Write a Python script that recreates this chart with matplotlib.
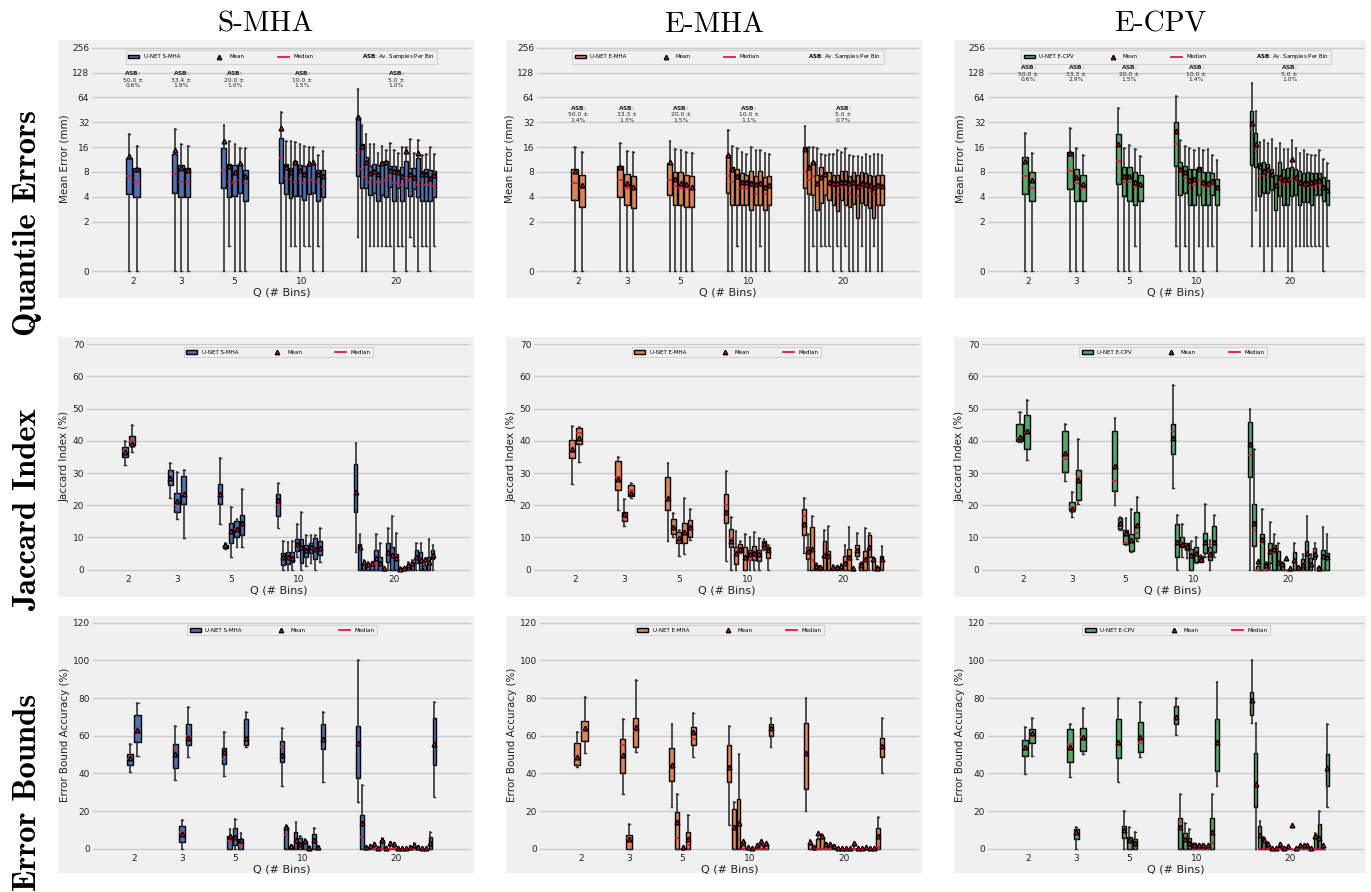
import numpy as np
import matplotlib
matplotlib.use("Agg")
import matplotlib.pyplot as plt
from matplotlib.patches import Rectangle, Patch
from matplotlib.lines import Line2D
from matplotlib.ticker import NullLocator

# ---------------------------------------------------------------- categories
Q_BINS = [2, 3, 5, 10, 20]
METHODS = ["S-MHA", "E-MHA", "E-CPV"]
ROW_NAMES = ["Quantile Errors", "Jaccard Index", "Error Bounds"]
Y_LABELS = ["Mean Error (mm)", "Jaccard Index (%)", "Error Bound Accuracy (%)"]
ERR_TICKS = [0, 2, 4, 8, 16, 32, 64, 128, 256]
JAC_TICKS = [0, 10, 20, 30, 40, 50, 60, 70]
EB_TICKS = [0, 20, 40, 60, 80, 100, 120]

# average samples per bin (mean, std %) shown above each bin group
ASB_MEAN_SMHA = [50.0, 33.4, 20.0, 10.0, 5.0]
ASB_STD_SMHA = [0.6, 1.9, 1.0, 1.5, 1.0]
ASB_MEAN_EMHA = [50.0, 33.3, 20.0, 10.0, 5.0]
ASB_STD_EMHA = [1.4, 1.3, 1.5, 1.1, 0.7]
ASB_MEAN_ECPV = [50.0, 33.3, 20.0, 10.0, 5.0]
ASB_STD_ECPV = [0.6, 2.9, 1.5, 1.4, 1.0]

# ---------------------------------------------------------------- S-MHA, mean error (mm)
SMHA_ERR_LO = [0, 0,
               0, 0, 0,
               0, 1.0, 0, 0, 0,
               0, 0, 1.0, 1.0, 0, 1.0, 1.0, 0, 1.0, 0,
               1.3, 0, 0, 1.0, 1.0, 1.0, 1.0, 1.0, 1.0, 0,
               1.0, 1.0, 0, 1.3, 1.0, 0, 1.0, 1.0, 0, 1.0]
SMHA_ERR_Q1 = [4.3, 4.0,
               4.5, 4.0, 4.0,
               5.1, 4.0, 4.1, 4.45, 3.6,
               5.9, 4.3, 3.9, 4.1, 4.1, 3.7, 4.3, 4.5, 3.6, 4.0,
               7.1, 5.1, 5.1, 4.2, 4.5, 3.6, 4.2, 4.0, 5.3, 3.6,
               5.1, 3.6, 5.1, 4.1, 5.0, 4.0, 3.6, 3.6, 3.6, 4.0]
SMHA_ERR_MED = [7.2, 6.1,
                7.6, 6.1, 6.1,
                8.4, 6.1, 6.1, 6.4, 5.8,
                11.7, 6.7, 6.5, 6.0, 6.7, 5.9, 6.4, 6.4, 6.1, 5.4,
                13.7, 8.6, 7.0, 6.1, 6.8, 6.0, 6.1, 6.4, 7.2, 5.8,
                5.8, 5.6, 6.7, 6.4, 6.5, 5.6, 6.4, 5.6, 5.6, 5.4]
SMHA_ERR_Q3 = [11.8, 9.0,
               13.2, 9.6, 9.0,
               15.8, 9.9, 9.6, 10.0, 8.5,
               20.7, 10.1, 9.0, 11.0, 9.8, 9.4, 9.6, 10.0, 8.4, 8.5,
               36.8, 17.3, 12.2, 9.5, 10.0, 9.6, 10.5, 11.0, 9.5, 9.4,
               8.4, 9.3, 10.8, 9.0, 9.0, 11.8, 8.2, 8.6, 8.5, 8.1]
SMHA_ERR_HI = [23.0, 16.5,
               26.6, 17.6, 16.5,
               29.7, 18.8, 17.6, 15.8, 15.5,
               42.0, 18.9, 19.2, 18.2, 17.6, 16.3, 16.0, 16.0, 12.8, 14.5,
               80.0, 30.0, 23.0, 17.3, 17.3, 13.6, 16.5, 14.9, 17.9, 14.7,
               13.6, 16.2, 16.0, 19.8, 13.4, 19.6, 12.8, 13.1, 16.0, 13.2]
SMHA_ERR_MEAN = [12.6, 8.6,
                 14.9, 9.0, 8.4,
                 19.2, 9.5, 8.0, 10.4, 7.2,
                 27.0, 9.1, 7.9, 10.6, 8.4, 7.6, 10.3, 10.5, 7.5, 7.2,
                 36.8, 16.5, 10.7, 7.7, 8.2, 7.5, 10.4, 10.7, 8.5, 8.2,
                 7.9, 7.2, 14.5, 7.6, 7.0, 13.7, 7.6, 7.6, 6.8, 7.3]

# ---------------------------------------------------------------- E-MHA, mean error (mm)
EMHA_ERR_LO = [0, 0,
               0, 0, 0,
               0, 0, 0, 0, 0,
               0, 0, 1.0, 0, 0, 0, 0, 1.0, 0, 0,
               0, 0, 1.0, 0, 1.0, 1.0, 1.0, 0, 1.0, 0,
               1.0, 0, 0, 0, 1.0, 0, 0, 1.0, 0, 0]
EMHA_ERR_Q1 = [3.7, 3.0,
               4.0, 3.2, 2.9,
               4.2, 3.2, 3.2, 3.0, 3.0,
               4.5, 3.2, 3.2, 3.2, 3.2, 2.8, 3.2, 3.2, 2.8, 3.2,
               5.1, 4.3, 4.2, 2.8, 3.4, 4.2, 3.7, 3.2, 2.7, 3.7,
               3.2, 3.0, 3.3, 2.2, 3.4, 3.2, 2.9, 2.2, 3.2, 3.2]
EMHA_ERR_MED = [5.8, 5.1,
                6.4, 5.1, 5.1,
                6.4, 5.4, 5.1, 5.1, 5.1,
                7.2, 6.1, 6.5, 5.1, 5.1, 5.4, 4.3, 5.4, 4.3, 5.3,
                7.9, 6.4, 7.2, 5.7, 6.4, 7.0, 5.4, 5.2, 4.2, 5.3,
                5.3, 4.5, 5.3, 4.1, 5.2, 5.3, 4.7, 4.3, 5.2, 5.2]
EMHA_ERR_Q3 = [8.6, 7.3,
               9.5, 7.6, 7.2,
               10.4, 8.0, 7.9, 7.4, 7.1,
               13.0, 9.1, 8.6, 7.7, 7.3, 8.3, 7.2, 8.3, 7.0, 7.2,
               15.9, 9.5, 10.7, 7.4, 9.1, 8.0, 8.0, 7.4, 7.4, 8.3,
               8.3, 7.2, 8.0, 7.3, 8.0, 7.7, 7.4, 7.2, 7.3, 7.3]
EMHA_ERR_HI = [16.0, 13.8,
               17.8, 14.4, 13.8,
               18.9, 15.3, 14.8, 13.8, 13.4,
               26.0, 16.6, 15.6, 13.8, 13.2, 15.9, 14.6, 14.8, 13.6, 13.3,
               29.0, 16.0, 16.0, 15.6, 13.2, 12.9, 13.2, 13.2, 14.8, 13.8,
               15.6, 12.9, 12.5, 12.5, 12.3, 13.2, 12.5, 13.2, 13.2, 12.9]
EMHA_ERR_MEAN = [8.1, 5.6,
                 9.3, 5.9, 5.3,
                 10.7, 6.5, 5.9, 5.7, 5.3,
                 12.7, 8.6, 7.2, 6.1, 6.1, 5.9, 5.7, 5.8, 5.3, 5.5,
                 15.3, 9.1, 10.7, 5.8, 6.9, 7.6, 6.1, 5.8, 5.9, 6.0,
                 6.1, 5.8, 6.1, 5.4, 5.8, 5.7, 5.5, 5.3, 5.5, 5.4]

# ---------------------------------------------------------------- E-CPV, mean error (mm)
ECPV_ERR_LO = [0, 0,
               0, 0, 0,
               0, 0, 0, 1.0, 0,
               1.0, 0, 1.0, 0, 0, 1.0, 0, 1.0, 1.0, 0,
               1.0, 2.8, 1.0, 0, 1.0, 0, 1.0, 1.0, 1.0, 0,
               0, 1.0, 1.0, 1.0, 1.0, 1.0, 1.0, 1.0, 0, 1.0]
ECPV_ERR_Q1 = [4.3, 3.6,
               5.0, 3.6, 3.6,
               5.7, 4.1, 3.6, 3.2, 3.6,
               9.5, 4.2, 4.5, 3.2, 3.2, 4.2, 3.2, 3.2, 4.2, 3.2,
               9.8, 9.3, 4.1, 4.4, 4.5, 4.8, 2.8, 4.1, 3.2, 3.2,
               4.1, 4.2, 3.2, 3.5, 3.5, 3.2, 4.2, 4.2, 3.6, 3.2]
ECPV_ERR_MED = [7.2, 5.1,
                8.3, 5.8, 5.1,
                10.9, 6.1, 6.1, 5.2, 5.2,
                17.4, 8.0, 6.7, 5.1, 5.5, 6.4, 5.2, 5.2, 5.5, 4.9,
                26.0, 14.4, 7.2, 7.4, 6.9, 7.0, 5.2, 6.1, 5.7, 5.7,
                6.5, 6.2, 6.1, 5.2, 5.5, 5.2, 5.2, 5.7, 5.1, 4.7]
ECPV_ERR_Q3 = [12.1, 7.9,
               14.1, 8.6, 7.3,
               23.0, 9.1, 9.1, 8.0, 7.3,
               32.5, 10.7, 9.5, 8.6, 8.6, 9.1, 8.0, 8.0, 7.7, 6.5,
               44.0, 23.7, 10.2, 10.7, 10.0, 8.8, 7.4, 10.6, 8.6, 8.9,
               9.3, 8.8, 8.3, 7.7, 7.9, 7.7, 7.7, 7.7, 7.0, 6.3]
ECPV_ERR_HI = [23.7, 13.6,
               26.9, 15.5, 12.9,
               48.0, 15.6, 16.9, 15.3, 12.5,
               66.0, 19.7, 16.4, 15.6, 14.8, 15.6, 14.8, 15.3, 12.9, 11.3,
               97.0, 44.0, 18.6, 19.7, 18.1, 20.0, 15.6, 17.9, 15.2, 15.2,
               19.7, 15.6, 13.4, 14.8, 13.1, 12.9, 12.9, 14.8, 11.6, 10.3]
ECPV_ERR_MEAN = [11.0, 6.3,
                 13.4, 7.0, 5.7,
                 17.5, 7.2, 7.2, 6.0, 5.7,
                 24.8, 8.8, 8.0, 6.3, 6.5, 8.6, 6.1, 5.8, 6.2, 5.3,
                 31.3, 17.5, 9.5, 8.3, 8.8, 7.6, 5.5, 7.0, 6.5, 6.5,
                 11.5, 7.0, 6.1, 5.9, 5.8, 6.0, 6.2, 6.3, 5.3, 4.8]

# ---------------------------------------------------------------- S-MHA, Jaccard index (%)
SMHA_JAC_LO = [32.6, 36.4,
               22.4, 15.7, 9.9,
               14.1, 6.5, 4.0, 7.0, 6.9,
               12.9, 0, 0, 0, 4.0, 0, 1.1, 2.1, 0, 2.3,
               5.4, 0, 0, 0, 0, 0, 0, 0, 0, 0,
               0, 0, 0, 0, 0, 0, 0, 0, 0, 0]
SMHA_JAC_Q1 = [35.0, 38.7,
               26.3, 18.0, 20.3,
               20.3, 6.7, 8.2, 10.1, 10.8,
               16.6, 1.4, 1.7, 2.4, 5.9, 2.1, 4.0, 5.2, 3.4, 4.5,
               18.0, 0, 0, 0, 0, 0, 0, 0, 2.5, 0,
               0, 0, 0, 0, 0, 2.1, 0, 0, 0, 3.2]
SMHA_JAC_MED = [37.0, 40.0,
                27.7, 20.2, 23.5,
                23.2, 7.2, 11.8, 12.5, 13.6,
                20.0, 3.3, 3.7, 3.3, 7.3, 6.6, 5.7, 6.6, 6.6, 6.3,
                23.7, 6.1, 1.7, 1.6, 1.4, 1.8, 1.4, 0, 5.3, 4.1,
                3.3, 0, 0, 0.9, 1.7, 3.8, 3.0, 0.7, 2.3, 4.5]
SMHA_JAC_Q3 = [38.0, 41.4,
               31.0, 23.9, 29.0,
               26.6, 7.8, 14.5, 15.1, 17.0,
               23.5, 5.3, 5.4, 5.4, 9.6, 9.5, 7.7, 8.2, 9.7, 8.8,
               32.7, 8.1, 2.0, 1.9, 1.7, 6.1, 4.0, 0, 8.2, 7.0,
               4.8, 0.6, 0.7, 1.7, 2.3, 6.1, 5.4, 1.4, 4.0, 6.0]
SMHA_JAC_HI = [40.0, 45.0,
               33.2, 30.3, 31.0,
               34.7, 8.2, 19.5, 15.7, 25.2,
               26.8, 8.9, 8.6, 8.9, 14.1, 17.8, 10.8, 10.8, 10.9, 13.1,
               39.4, 11.1, 3.0, 2.5, 2.3, 11.1, 8.4, 0, 13.0, 16.7,
               11.3, 0.9, 0.9, 2.3, 3.0, 8.3, 8.3, 2.0, 9.6, 7.8]
SMHA_JAC_MEAN = [36.5, 39.1,
                 28.5, 21.4, 23.5,
                 23.5, 7.6, 11.9, 12.6, 14.6,
                 21.7, 3.8, 3.8, 3.7, 8.0, 7.1, 6.1, 6.9, 6.4, 6.7,
                 24.1, 6.9, 2.3, 1.9, 2.0, 3.7, 2.2, 0.5, 5.6, 4.5,
                 3.5, 0.3, 0.4, 1.4, 2.0, 4.0, 3.1, 3.3, 2.3, 4.7]

# ---------------------------------------------------------------- E-MHA, Jaccard index (%)
EMHA_JAC_LO = [26.6, 33.3,
               18.5, 13.5, 22.2,
               8.9, 10.1, 4.3, 4.8, 9.3,
               2.6, 0, 0, 5.2, 0, 0, 0, 0, 6.2, 0,
               5.2, 0, 0, 0, 0, 0, 0, 0, 0, 0,
               0, 0, 0, 3.3, 0, 0, 0, 0, 0, 0]
EMHA_JAC_Q1 = [34.6, 38.9,
               24.9, 15.1, 22.9,
               18.5, 11.2, 8.2, 8.2, 10.0,
               14.4, 7.2, 1.8, 5.6, 0, 3.0, 3.0, 2.7, 6.3, 3.6,
               10.8, 3.3, 0, 0, 0, 0, 0, 0, 0, 0,
               0, 0, 0, 4.3, 0, 0, 4.0, 0, 0, 0]
EMHA_JAC_MED = [36.4, 42.5,
                28.9, 16.1, 24.9,
                21.8, 12.9, 9.6, 11.1, 12.9,
                20.0, 9.7, 5.1, 6.3, 3.0, 3.0, 4.0, 4.0, 7.7, 5.7,
                16.8, 6.1, 3.0, 0.9, 0.4, 4.0, 4.0, 0.4, 0.4, 0.7,
                1.4, 3.0, 0, 6.1, 1.2, 3.0, 6.4, 2.8, 0.4, 2.6]
EMHA_JAC_Q3 = [40.3, 44.0,
               33.6, 18.0, 26.2,
               28.9, 15.6, 11.7, 14.4, 15.5,
               23.5, 12.6, 6.9, 8.1, 6.9, 6.2, 7.3, 6.1, 8.8, 7.2,
               18.9, 7.1, 13.4, 1.4, 0.9, 8.9, 5.9, 0.9, 0.9, 1.3,
               4.3, 6.4, 0, 7.7, 2.0, 5.8, 10.9, 3.5, 0.9, 4.3]
EMHA_JAC_HI = [44.6, 44.4,
               34.9, 21.8, 26.8,
               33.0, 17.6, 12.3, 22.3, 18.8,
               30.6, 16.3, 12.0, 9.0, 11.0, 10.0, 11.8, 9.8, 9.6, 7.8,
               22.2, 11.1, 16.7, 2.0, 1.2, 12.3, 13.6, 1.4, 1.2, 1.7,
               7.6, 13.4, 0, 11.3, 2.3, 13.1, 11.4, 4.0, 1.2, 7.3]
EMHA_JAC_MEAN = [37.4, 40.8,
                 28.2, 17.2, 23.9,
                 22.2, 13.4, 9.9, 11.8, 13.4,
                 18.0, 8.9, 5.2, 6.5, 4.0, 4.8, 5.2, 5.0, 8.1, 6.1,
                 14.2, 5.7, 6.4, 1.3, 0.8, 4.7, 4.3, 0.8, 0.8, 1.2,
                 2.0, 4.0, 0.4, 6.1, 1.6, 3.3, 6.9, 3.2, 0.6, 3.2]

# ---------------------------------------------------------------- E-CPV, Jaccard index (%)
ECPV_JAC_LO = [39.5, 34.1,
               27.5, 16.5, 20.3,
               20.1, 12.3, 7.8, 5.4, 9.0,
               25.5, 0, 4.0, 3.5, 0, 2.0, 2.3, 3.9, 0, 4.0,
               0, 0, 0, 0, 0, 0, 0, 0, 0, 0,
               0, 0, 0, 0, 0, 0, 0, 0, 0, 0]
ECPV_JAC_Q1 = [39.9, 37.5,
               30.2, 18.4, 21.7,
               24.5, 12.7, 8.1, 5.9, 9.9,
               36.0, 3.9, 7.0, 6.0, 0, 2.3, 2.5, 5.1, 3.0, 5.4,
               28.7, 7.3, 0, 0, 0, 2.0, 0, 0, 0, 0,
               0, 0, 0, 0, 0, 0, 3.3, 0, 0, 0]
ECPV_JAC_MED = [40.8, 42.5,
                34.5, 19.6, 28.9,
                27.5, 14.7, 8.2, 9.1, 11.3,
                43.2, 7.9, 8.2, 7.6, 4.2, 5.6, 3.5, 8.4, 5.1, 7.7,
                35.6, 12.3, 0, 8.4, 0, 5.6, 5.1, 2.0, 1.4, 0,
                0, 2.5, 0, 0.9, 2.0, 1.4, 6.1, 0, 4.0, 3.3]
ECPV_JAC_Q3 = [45.2, 48.0,
               43.2, 21.0, 30.8,
               43.1, 16.1, 12.3, 11.1, 18.0,
               45.2, 14.3, 10.0, 8.2, 6.5, 6.9, 4.3, 11.3, 6.9, 13.6,
               45.9, 20.3, 1.2, 11.0, 2.0, 8.2, 7.6, 5.8, 2.0, 0,
               0, 5.5, 0.9, 3.3, 9.0, 3.5, 6.6, 0.7, 6.1, 5.1]
ECPV_JAC_HI = [49.0, 52.7,
               45.2, 24.1, 40.6,
               47.2, 16.5, 16.0, 18.7, 22.5,
               57.3, 17.0, 14.2, 8.2, 8.9, 10.0, 4.6, 20.5, 9.2, 17.0,
               50.0, 37.4, 2.0, 18.8, 2.5, 14.7, 11.1, 8.2, 2.3, 0,
               0, 8.2, 1.2, 4.8, 16.7, 4.9, 8.2, 1.2, 13.4, 11.1]
ECPV_JAC_MEAN = [41.3, 43.0,
                 36.1, 18.9, 27.8,
                 32.2, 14.6, 11.3, 9.2, 13.9,
                 41.0, 8.5, 8.1, 7.4, 4.7, 5.3, 3.3, 8.5, 5.0, 8.5,
                 38.9, 14.6, 2.7, 9.4, 1.4, 5.8, 6.3, 2.5, 1.7, 3.5,
                 0.4, 3.0, 0.7, 1.4, 5.1, 1.7, 4.8, 0.6, 4.3, 4.0]

# ---------------------------------------------------------------- S-MHA, error bound accuracy (%)
SMHA_EB_LO = [40.5, 49.4,
              36.6, 0, 48.5,
              38.8, 0, 0, 0, 54.0,
              33.5, 0, 0, 0, 0, 0, 0, 0, 0, 35.6,
              25.0, 0, 0, 0, 0, 0, 0, 0, 0, 0,
              0, 0, 0, 0, 0, 0, 0, 0, 0, 27.3]
SMHA_EB_Q1 = [44.2, 56.5,
              42.7, 3.4, 55.2,
              44.8, 0, 2.1, 0, 55.0,
              45.8, 0, 0, 0, 0, 0, 0, 0, 0, 52.7,
              37.3, 0, 0, 0, 0, 0, 0, 0, 0, 0,
              0, 0, 0, 0, 0, 0, 0, 0, 0, 44.4]
SMHA_EB_MED = [47.6, 62.7,
               53.3, 9.0, 59.8,
               47.6, 4.1, 5.0, 1.8, 58.2,
               54.2, 7.1, 0, 2.8, 1.8, 2.8, 0, 3.4, 0, 57.2,
               55.4, 6.4, 0, 0, 0, 0, 0, 0, 0, 0,
               0, 0, 0, 0, 0, 0, 0, 0, 1.9, 55.0]
SMHA_EB_Q3 = [50.3, 71.0,
              55.4, 11.9, 66.4,
              53.3, 6.9, 11.2, 5.1, 69.0,
              57.2, 11.7, 1.4, 9.0, 5.8, 4.2, 0, 7.6, 0, 66.0,
              65.1, 17.9, 0, 0, 0, 0, 4.6, 0, 0, 0,
              0, 0, 0, 0, 0, 0, 0, 0, 6.4, 69.2]
SMHA_EB_HI = [55.4, 77.5,
              65.0, 15.0, 75.4,
              62.0, 10.6, 15.6, 8.5, 72.7,
              63.9, 12.6, 1.9, 14.0, 6.9, 5.0, 1.4, 10.8, 1.6, 72.4,
              100.0, 33.8, 0.8, 1.9, 3.2, 0, 5.5, 0, 3.4, 2.8,
              0, 0, 0, 1.2, 2.8, 1.2, 0, 0, 8.7, 78.1]
SMHA_EB_MEAN = [48.0, 63.2,
                50.3, 8.0, 58.6,
                51.5, 6.7, 6.0, 4.6, 58.9,
                49.6, 11.7, 1.4, 4.6, 2.3, 3.9, 0.5, 4.8, 1.1, 58.1,
                56.3, 13.5, 0.9, 1.6, 2.5, 0.2, 4.6, 0.2, 2.8, 2.3,
                0.3, 0.2, 0.2, 0.9, 2.1, 0.9, 0.2, 0.2, 2.8, 55.6]

# ---------------------------------------------------------------- E-MHA, error bound accuracy (%)
EMHA_EB_LO = [43.5, 51.0,
              29.0, 0, 51.5,
              22.3, 0, 0, 0, 48.7,
              12.6, 0, 0, 0, 0, 0, 0, 0, 0, 54.2,
              20.0, 0, 0, 0, 0, 0, 0, 0, 0, 0,
              0, 0, 0, 0, 0, 0, 0, 0, 0, 40.0]
EMHA_EB_Q1 = [44.4, 57.3,
              40.0, 0, 54.2,
              36.1, 0, 0, 0, 55.2,
              35.4, 0, 0, 0, 0, 0, 0, 0, 0, 59.8,
              31.5, 0, 0, 0, 0, 0, 0, 0, 0, 0,
              0, 0, 0, 0, 0, 0, 0, 0, 0, 48.8]
EMHA_EB_MED = [48.1, 63.0,
               55.0, 5.5, 62.7,
               42.7, 5.8, 0, 1.9, 58.1,
               42.1, 11.7, 12.0, 0, 0, 0, 0, 0, 0, 63.0,
               49.7, 1.9, 0, 0, 0, 0, 0, 0, 0, 0,
               0, 0, 0, 0, 0, 0, 0, 0, 1.1, 53.8]
EMHA_EB_Q3 = [55.9, 67.8,
              58.1, 7.3, 69.6,
              53.3, 19.6, 0, 8.7, 64.4,
              54.9, 21.2, 26.5, 1.9, 0, 0, 1.1, 1.9, 1.9, 66.0,
              66.5, 2.8, 0, 5.0, 6.4, 1.9, 1.9, 0, 0, 0,
              0, 0, 0, 0, 0, 0, 0, 0, 11.2, 58.6]
EMHA_EB_HI = [62.1, 80.7,
              68.8, 13.1, 89.6,
              66.0, 28.8, 0, 17.7, 71.9,
              65.0, 25.0, 50.3, 2.8, 0, 0, 1.9, 2.8, 2.8, 69.6,
              80.2, 4.6, 0, 5.5, 7.6, 2.8, 2.8, 1.8, 0, 0,
              0, 0, 2.8, 0, 0, 0.8, 0, 0, 17.0, 69.6]
EMHA_EB_MEAN = [48.8, 63.9,
                49.6, 5.0, 64.4,
                44.4, 14.2, 0.7, 5.3, 62.1,
                43.5, 11.7, 13.5, 4.1, 0.7, 0.5, 1.8, 4.1, 2.8, 63.9,
                50.6, 3.7, 1.1, 8.1, 6.9, 2.3, 2.3, 1.6, 0.2, 0.2,
                0.2, 0.2, 3.2, 0.2, 0.2, 1.1, 0.2, 0.2, 6.9, 54.5]

# ---------------------------------------------------------------- E-CPV, error bound accuracy (%)
ECPV_EB_LO = [39.5, 49.4,
              37.9, 0, 50.1,
              35.2, 0, 0, 0, 48.7,
              60.4, 0, 0, 0, 0, 0, 0, 0, 0, 33.5,
              66.5, 0, 0, 0, 0, 0, 0, 0, 0, 0,
              0, 0, 0, 0, 0, 0, 0, 0, 0, 22.3]
ECPV_EB_Q1 = [49.4, 55.9,
              45.8, 5.0, 51.9,
              48.3, 5.5, 0, 0, 51.3,
              66.0, 0, 0, 0, 0, 0, 0, 0, 0, 41.4,
              70.8, 22.3, 0, 0, 0, 0, 0, 0, 0, 0,
              0, 0, 0, 0, 0, 0, 0, 0, 0, 33.5]
ECPV_EB_MED = [53.6, 59.8,
               55.4, 8.7, 59.1,
               55.0, 9.0, 3.7, 1.1, 55.9,
               68.8, 14.0, 4.6, 1.1, 0, 0, 0, 0, 3.2, 55.0,
               75.4, 32.9, 0, 0, 0, 0, 0, 0, 0, 0,
               0, 0, 0, 0, 0, 0, 0, 0, 0, 42.3]
ECPV_EB_Q3 = [57.7, 63.5,
              63.5, 10.4, 63.9,
              68.7, 12.2, 6.4, 5.0, 67.4,
              75.9, 16.1, 8.1, 5.5, 2.8, 1.9, 1.9, 1.1, 16.1, 68.8,
              83.0, 51.0, 12.0, 5.5, 2.8, 0, 0, 1.1, 0, 0,
              0, 0, 0, 0, 0, 0, 7.3, 12.9, 0, 50.1]
ECPV_EB_HI = [64.8, 69.2,
              66.0, 11.7, 74.9,
              80.2, 20.2, 11.7, 8.7, 77.7,
              80.2, 29.0, 13.5, 10.4, 3.2, 2.3, 2.3, 1.9, 29.0, 88.7,
              100.0, 66.9, 14.7, 6.4, 3.5, 0, 0, 2.8, 0, 1.2,
              0, 0, 1.2, 1.2, 1.2, 0, 8.1, 20.2, 1.2, 66.0]
ECPV_EB_MEAN = [53.8, 61.2,
                54.2, 8.7, 59.5,
                56.5, 9.9, 4.6, 2.8, 59.1,
                69.7, 11.7, 5.1, 2.8, 1.8, 1.9, 1.8, 1.8, 9.0, 56.5,
                78.9, 34.3, 7.3, 4.6, 2.5, 0.2, 0.2, 2.3, 0.2, 1.4,
                12.6, 0.2, 1.9, 1.9, 1.9, 0.2, 6.9, 5.8, 1.8, 42.7]

PANELS = [
    [(SMHA_ERR_LO, SMHA_ERR_Q1, SMHA_ERR_MED, SMHA_ERR_Q3, SMHA_ERR_HI, SMHA_ERR_MEAN),
     (EMHA_ERR_LO, EMHA_ERR_Q1, EMHA_ERR_MED, EMHA_ERR_Q3, EMHA_ERR_HI, EMHA_ERR_MEAN),
     (ECPV_ERR_LO, ECPV_ERR_Q1, ECPV_ERR_MED, ECPV_ERR_Q3, ECPV_ERR_HI, ECPV_ERR_MEAN)],
    [(SMHA_JAC_LO, SMHA_JAC_Q1, SMHA_JAC_MED, SMHA_JAC_Q3, SMHA_JAC_HI, SMHA_JAC_MEAN),
     (EMHA_JAC_LO, EMHA_JAC_Q1, EMHA_JAC_MED, EMHA_JAC_Q3, EMHA_JAC_HI, EMHA_JAC_MEAN),
     (ECPV_JAC_LO, ECPV_JAC_Q1, ECPV_JAC_MED, ECPV_JAC_Q3, ECPV_JAC_HI, ECPV_JAC_MEAN)],
    [(SMHA_EB_LO, SMHA_EB_Q1, SMHA_EB_MED, SMHA_EB_Q3, SMHA_EB_HI, SMHA_EB_MEAN),
     (EMHA_EB_LO, EMHA_EB_Q1, EMHA_EB_MED, EMHA_EB_Q3, EMHA_EB_HI, EMHA_EB_MEAN),
     (ECPV_EB_LO, ECPV_EB_Q1, ECPV_EB_MED, ECPV_EB_Q3, ECPV_EB_HI, ECPV_EB_MEAN)],
]
ASB = [(ASB_MEAN_SMHA, ASB_STD_SMHA), (ASB_MEAN_EMHA, ASB_STD_EMHA), (ASB_MEAN_ECPV, ASB_STD_ECPV)]

# ---------------------------------------------------------------- styling / layout
COLORS = ["#4C72B0", "#DD8452", "#55A868"]
MED_C = "#e3173e"
BG = "#f0f0f0"
GRID_C = "#cbcbcb"
TXT_C = "#222222"

W, H, DPI = 1371, 892, 100
GRAY_COLS = [(58, 474), (506, 922), (954, 1366)]
GRAY_ROWS = [(40, 298), (337, 597), (616, 873)]
AX_X = [[(92, 471), (537, 919), (988, 1364)],
        [(87, 470), (534, 919), (982, 1364)],
        [(93, 471), (540, 919), (988, 1364)]]
AX_Y = [(44, 274), (341, 572), (619, 851)]
YLIMS = [(-0.109, 284.0), (-0.71, 71.0), (-1.22, 122.0)]
ASB_Y = [108.0, 41.0, 128.0]

GROUP_CENTERS = [10.8, 23.5, 37.6, 55.4, 80.2]
GROUP_STEP = [1.93, 1.72, 1.45, 1.21, 1.06]

positions, widths = [], []
for cx, q, st in zip(GROUP_CENTERS, Q_BINS, GROUP_STEP):
    offs = (np.arange(q) - (q - 1) / 2.0) * st
    positions.extend(cx + offs)
    widths.extend([st * 0.85] * q)
capwidths = [w * 0.35 for w in widths]


def fig_rect(x0, y0, x1, y1):
    return [x0 / W, 1 - y1 / H, (x1 - x0) / W, (y1 - y0) / H]


fig = plt.figure(figsize=(W / DPI, H / DPI), dpi=DPI, facecolor="white")

for r in range(3):
    for c in range(3):
        gx0, gx1 = GRAY_COLS[c]
        gy0, gy1 = GRAY_ROWS[r]
        fig.add_artist(Rectangle((gx0 / W, 1 - gy1 / H), (gx1 - gx0) / W, (gy1 - gy0) / H,
                                 transform=fig.transFigure, facecolor=BG,
                                 edgecolor="none", zorder=-5))
        ax0, ax1 = AX_X[r][c]
        ay0, ay1 = AX_Y[r]
        ax = fig.add_axes(fig_rect(ax0, ay0, ax1, ay1))
        ax.set_facecolor(BG)
        for sp in ax.spines.values():
            sp.set_visible(False)

        lo, q1, med, q3, hi, mean = PANELS[r][c]
        stats = [dict(whislo=a, q1=b, med=m, q3=d, whishi=e, mean=f, fliers=[])
                 for a, b, m, d, e, f in zip(lo, q1, med, q3, hi, mean)]

        if r == 0:
            ax.set_yscale("symlog", base=2, linthresh=1, linscale=0.5)

        ax.bxp(stats, positions=positions, widths=widths, capwidths=capwidths,
               patch_artist=True, showmeans=True, showfliers=False, manage_ticks=False,
               boxprops=dict(facecolor=COLORS[c], edgecolor="black", linewidth=1.0),
               medianprops=dict(color=MED_C, linewidth=1.2),
               meanprops=dict(marker="^", markerfacecolor=MED_C, markeredgecolor="black",
                              markersize=3.4, markeredgewidth=1.0),
               whiskerprops=dict(color="#333333", linewidth=1.2),
               capprops=dict(color="#333333", linewidth=1.0))

        ax.set_xlim(0, 100)
        ax.set_ylim(*YLIMS[r])
        ticks = [ERR_TICKS, JAC_TICKS, EB_TICKS][r]
        ax.set_yticks(ticks)
        ax.set_yticklabels([str(t) for t in ticks])
        ax.yaxis.set_minor_locator(NullLocator())
        ax.set_xticks(GROUP_CENTERS)
        ax.set_xticklabels([str(q) for q in Q_BINS])
        ax.xaxis.set_minor_locator(NullLocator())
        ax.tick_params(length=0, labelsize=6.5, pad=2, colors=TXT_C)
        ax.grid(axis="y", color=GRID_C, linewidth=1.0)
        ax.grid(axis="x", visible=False)
        ax.set_axisbelow(True)
        ax.set_xlabel("Q (# Bins)", fontsize=8, labelpad=1, color=TXT_C)
        ax.set_ylabel(Y_LABELS[r], fontsize=7.5, labelpad=2, color=TXT_C)

        handles = [Patch(facecolor=COLORS[c], edgecolor="black", linewidth=1.0),
                   Line2D([], [], ls="none", marker="^", markerfacecolor=MED_C,
                          markeredgecolor="black", markersize=3.2, markeredgewidth=1.0),
                   Line2D([], [], color=MED_C, linewidth=1.3)]
        labels = [f"U-NET {METHODS[c]}", "Mean", "Median"]
        if r == 0:
            handles.append(Line2D([], [], ls="none"))
            labels.append(r"$\mathbf{ASB}$: Av. Samples Per Bin")
        ax_h = ay1 - ay0
        leg = ax.legend(handles, labels, loc="upper center",
                        bbox_to_anchor=(0.5, 1 - 6.0 / ax_h), borderaxespad=0,
                        ncol=len(handles), fontsize=4, frameon=True, fancybox=False,
                        edgecolor="#d2d2d2", facecolor=BG, framealpha=1,
                        columnspacing=6.0, handlelength=2.0, handletextpad=0.8,
                        borderpad=0.45)
        leg.get_frame().set_linewidth(0.8)

        if r == 0:
            means, stds = ASB[c]
            for cx, m, s in zip(GROUP_CENTERS, means, stds):
                ax.text(cx, ASB_Y[c], r"$\mathbf{ASB}$:" + f"\n{m:.1f} ±\n{s:.1f}%",
                        ha="center", va="center", fontsize=4.3, linespacing=1.05,
                        color=TXT_C)

# column titles
TITLE_X = [266, 714, 1160]
for x, name in zip(TITLE_X, METHODS):
    fig.text(x / W, 1 - 32 / H, name, family="cmr10", fontsize=21,
             ha="center", va="baseline", color="black")

# row titles
ROW_Y = [223, 510, 792]
for y, name in zip(ROW_Y, ROW_NAMES):
    fig.text(28 / W, 1 - y / H, name, family="cmb10", fontsize=23.5, rotation=90,
             ha="center", va="center", color="black")

fig.savefig("out.png", dpi=DPI, facecolor="white")
